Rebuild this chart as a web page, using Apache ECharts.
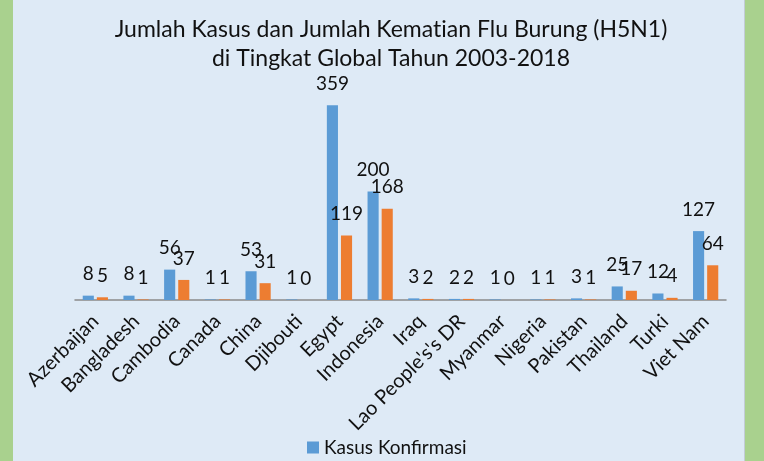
<!DOCTYPE html>
<html>
<head>
<meta charset="utf-8">
<script src="https://cdn.jsdelivr.net/npm/echarts@6/dist/echarts.min.js"></script>
<style>
  html, body { margin: 0; padding: 0; background: #A9D18E; }
  #chart { width: 764px; height: 461px; }
</style>
</head>
<body>
<div id="chart"></div>
<script>
var countries = ['Azerbaijan', 'Bangladesh', 'Cambodia', 'Canada', 'China', 'Djibouti', 'Egypt', 'Indonesia',
  'Iraq', "Lao People's's DR", 'Myanmar', 'Nigeria', 'Pakistan', 'Thailand', 'Turki', 'Viet Nam'];
var kasus = [8, 8, 56, 1, 53, 1, 359, 200, 3, 2, 1, 1, 3, 25, 12, 127];
var kematian = [5, 1, 37, 1, 31, 0, 119, 168, 2, 2, 0, 1, 1, 17, 4, 64];

var chart = echarts.init(document.getElementById('chart'));
var font = 'Lato';

chart.setOption({
  backgroundColor: '#A9D18E',
  graphic: [
    { type: 'rect', z: -10, shape: { x: 13, y: 0, width: 732, height: 461 }, style: { fill: '#DEEAF6' } },
    { type: 'rect', z: -9, shape: { x: 744, y: 0, width: 1, height: 461 }, style: { fill: '#C3CCD6' } }
  ],
  title: {
    // zero-width non-joiner keeps "ti" from turning into a ligature
    text: 'Jumlah Kasus dan Jumlah Kemat\u200Cian Flu Burung (H5N1)\ndi Tingkat Global Tahun 2003-2018',
    left: 386,
    textAlign: 'center',
    top: 10,
    textStyle: { fontFamily: font, fontSize: 23, fontWeight: 'normal', color: '#111', lineHeight: 29 }
  },
  legend: {
    data: ['Kasus Konfirmasi'],
    left: 302,
    top: 433,
    icon: 'rect',
    itemWidth: 12,
    itemHeight: 12,
    itemGap: 6,
    textStyle: { fontFamily: font, fontSize: 19, color: '#111' }
  },
  grid: { left: 75, right: 38, top: 83, bottom: 161 },
  xAxis: {
    type: 'category',
    data: countries,
    axisLine: { lineStyle: { color: '#8a8a8a', width: 1.5 } },
    axisTick: { show: false },
    axisLabel: { interval: 0, rotate: 45, margin: 18, fontFamily: font, fontSize: 20, color: '#111' }
  },
  yAxis: { type: 'value', min: 0, max: 400, show: false, splitLine: { show: false } },
  series: [
    {
      name: 'Kasus Konfirmasi',
      type: 'bar',
      data: kasus,
      barGap: '27%',
      barCategoryGap: '38%',
      itemStyle: { color: '#5B9BD5' },
      label: { show: true, position: 'top', distance: 12, fontFamily: font, fontSize: 19, color: '#111' }
    },
    {
      name: 'Kasus Kematian',
      type: 'bar',
      data: kematian,
      itemStyle: { color: '#ED7D31' },
      label: { show: true, position: 'top', distance: 12, fontFamily: font, fontSize: 19, color: '#111' }
    }
  ]
});
</script>
</body>
</html>
